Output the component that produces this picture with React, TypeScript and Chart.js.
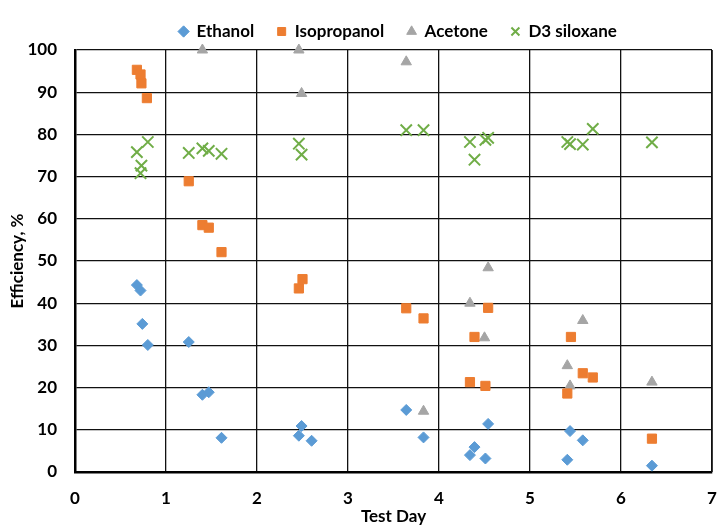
import React, { useEffect, useRef } from "react";
import { Chart, registerables } from "chart.js";

Chart.register(...registerables);

const seriesNames = ["Ethanol", "Isopropanol", "Acetone", "D3 siloxane"];

const ethanolX = [0.68, 0.72, 0.74, 0.8, 1.25, 1.4, 1.47, 1.61, 2.49, 2.46, 2.6, 3.64, 3.83, 4.54, 4.39, 4.34, 4.51, 5.44, 5.41, 5.58, 6.34];
const ethanolY = [44.3, 43.0, 35.1, 30.1, 30.8, 18.3, 18.9, 8.1, 10.9, 8.6, 7.4, 14.7, 8.2, 11.4, 5.9, 4.0, 3.2, 9.7, 2.9, 7.5, 1.5];

const isoX = [0.68, 0.72, 0.73, 0.79, 1.25, 1.4, 1.47, 1.61, 2.5, 2.46, 3.64, 3.83, 4.54, 4.39, 4.34, 4.51, 5.45, 5.58, 5.69, 5.41, 6.34];
const isoY = [95.3, 94.2, 92.1, 88.6, 68.9, 58.5, 57.9, 52.1, 45.7, 43.5, 38.8, 36.4, 38.9, 32.0, 21.3, 20.4, 32.0, 23.4, 22.4, 18.6, 7.9];

const acetoneX = [1.4, 2.46, 2.49, 3.64, 3.83, 4.54, 4.34, 4.5, 5.58, 5.41, 5.44, 6.34];
const acetoneY = [100, 100, 89.7, 97.2, 14.4, 48.4, 40.0, 31.8, 35.9, 25.2, 20.4, 21.3];

const siloxX = [0.8, 0.68, 0.73, 0.72, 1.25, 1.4, 1.47, 1.61, 2.46, 2.49, 3.64, 3.83, 4.34, 4.39, 4.51, 4.54, 5.41, 5.44, 5.58, 5.69, 6.34];
const siloxY = [78.2, 75.8, 72.6, 70.8, 75.6, 76.7, 76.1, 75.4, 77.8, 75.2, 81.0, 81.0, 78.2, 74.0, 78.7, 79.2, 78.2, 77.7, 77.6, 81.3, 78.1];

const xTitle = "Test Day";
const yTitle = "Efficiency, %";

const toPts = (xs: number[], ys: number[]) => xs.map((x, i) => ({ x, y: ys[i] }));

const FONT = "Lato, 'Open Sans', sans-serif";

export default function App() {
  const ref = useRef<HTMLCanvasElement | null>(null);
  useEffect(() => {
    if (!ref.current) return;
    const chart = new Chart(ref.current, {
      type: "scatter",
      data: {
        datasets: [
          {
            label: seriesNames[0],
            data: toPts(ethanolX, ethanolY),
            pointStyle: "rectRot",
            pointRadius: 5.5,
            backgroundColor: "#5B9BD5",
            borderColor: "#5B9BD5",
            borderWidth: 1,
            clip: false,
          },
          {
            label: seriesNames[1],
            data: toPts(isoX, isoY),
            pointStyle: "rect",
            pointRadius: 6.5,
            backgroundColor: "#ED7D31",
            borderColor: "#ED7D31",
            borderWidth: 1,
            clip: false,
          },
          {
            label: seriesNames[2],
            data: toPts(acetoneX, acetoneY),
            pointStyle: "triangle",
            pointRadius: 6,
            backgroundColor: "#A5A5A5",
            borderColor: "#A5A5A5",
            borderWidth: 1,
            clip: false,
          },
          {
            label: seriesNames[3],
            data: toPts(siloxX, siloxY),
            pointStyle: "crossRot",
            pointRadius: 8,
            backgroundColor: "#70AD47",
            borderColor: "#70AD47",
            borderWidth: 2,
            clip: false,
          },
        ],
      },
      options: {
        responsive: false,
        animation: false,
        layout: { autoPadding: false, padding: { top: 0, right: 5, left: 0, bottom: 0 } },
        plugins: {
          tooltip: { enabled: false },
          legend: {
            position: "top",
            align: "center",
            labels: {
              usePointStyle: true,
              boxWidth: 9,
              boxHeight: 8,
              padding: 23,
              color: "#000",
              font: { family: FONT, size: 17, weight: "bold" },
            },
          },
        },
        scales: {
          x: {
            type: "linear",
            min: 0,
            max: 7,
            ticks: {
              stepSize: 1,
              padding: 16,
              color: "#000",
              font: { family: FONT, size: 17, weight: "bold" },
            },
            grid: { color: "#111", lineWidth: 1.3, drawTicks: false },
            border: { color: "#000", width: 2.5 },
            title: {
              display: true,
              text: xTitle,
              color: "#000",
              padding: { top: 0, bottom: 0 },
              font: { family: FONT, size: 17, weight: "bold" },
            },
            afterFit: (s: any) => {
              s.height = 55;
              s.paddingRight = 5;
              s.paddingLeft = 5;
            },
          },
          y: {
            type: "linear",
            min: 0,
            max: 100,
            ticks: {
              stepSize: 10,
              padding: 18,
              color: "#000",
              font: { family: FONT, size: 17, weight: "bold" },
            },
            grid: { color: "#111", lineWidth: 1.3, drawTicks: false },
            border: { color: "#000", width: 2.5 },
            title: {
              display: true,
              text: yTitle,
              color: "#000",
              padding: { top: 7, bottom: 0 },
              font: { family: FONT, size: 17, weight: "bold" },
            },
            afterFit: (s: any) => {
              s.width = 75;
            },
          },
        },
      },
      plugins: [
        {
          id: "legendSpacer",
          beforeInit(c: any) {
            const lg = c.legend;
            if (!lg) return;
            const orig = lg.fit;
            lg.fit = function () {
              orig.call(this);
              this.height = 50;
            };
          },
          afterLayout(c: any) {
            const lg = c.legend;
            if (!lg) return;
            lg.left = 84;
            lg.right = 712;
          },
        },
        {
          id: "rightBorder",
          afterDraw(c: any) {
            const { ctx, chartArea } = c;
            ctx.save();
            ctx.strokeStyle = "#111";
            ctx.lineWidth = 1.5;
            ctx.beginPath();
            ctx.moveTo(chartArea.right, chartArea.top);
            ctx.lineTo(chartArea.right, chartArea.bottom);
            ctx.stroke();
            ctx.restore();
          },
        },
      ],
    } as any);
    return () => chart.destroy();
  }, []);
  return (
    <div style={{ position: "fixed", left: 0, top: 0, width: 717, height: 527, background: "#fff" }}>
      <canvas ref={ref} width={717} height={527} />
    </div>
  );
}
